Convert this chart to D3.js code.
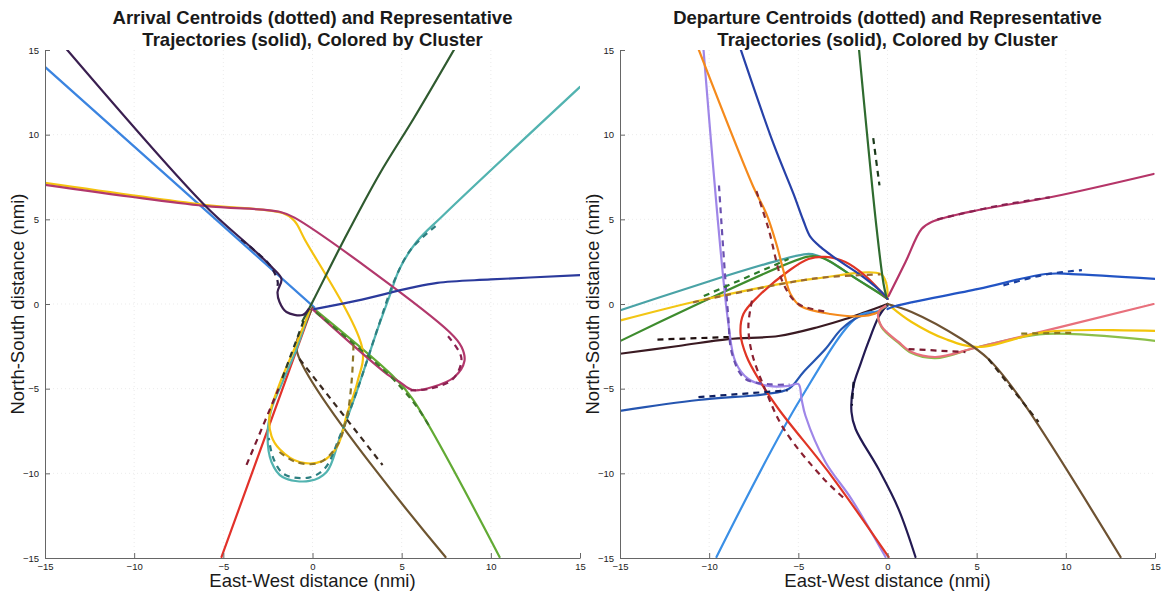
<!DOCTYPE html>
<html>
<head>
<meta charset="utf-8">
<script src="https://cdn.jsdelivr.net/npm/d3@7"></script>
<style>
  body { margin: 0; background: #fff; }
  svg { display: block; font-family: "Liberation Sans", Arial, Helvetica, sans-serif; }
</style>
</head>
<body>
<svg id="chart" width="1166" height="598"></svg>
<script>
// ---------------- data: positions in nautical miles (East-West, North-South) ----------------
const tickValues = [-15, -10, -5, 0, 5, 10, 15];
const arrivalTitle = ["Arrival Centroids (dotted) and Representative", "Trajectories (solid), Colored by Cluster"];
const departureTitle = ["Departure Centroids (dotted) and Representative", "Trajectories (solid), Colored by Cluster"];
const xLabel = "East-West distance (nmi)";
const yLabel = "North-South distance (nmi)";

// Arrival representative trajectories
const arrLightBlue = [[-15, 14.0], [0.1, -0.2]];
const arrDarkPurple = [[-13.8, 15.06], [-6.06, 5.85], [-3.4, 3.3], [-2.3, 2.2], [-1.74, 1.48], [-1.96, 0.71], [-1.85, 0.12], [-1.46, -0.47], [-0.56, -0.65], [-0.22, -0.3]];
const arrRoyalBlue = [[0.1, -0.3], [2.5, 0.2], [5.5, 0.95], [7, 1.25], [10, 1.45], [15, 1.7]];
const arrTeal = [[15, 12.82], [7.29, 5.2], [5.83, 3.66], [4.88, 2.07], [4.32, 0.47], [3.65, -1.48], [2.47, -5.2], [1.51, -7.97], [0.79, -9.92], [-0.17, -10.45], [-1.68, -10.22], [-2.3, -9.33], [-2.52, -7.8], [-2.3, -6.2], [-1.68, -4.6], [-0.9, -2.66], [-0.17, -0.41]];
const arrYellow = [[-15, 7.15], [-6.06, 5.85], [-1.68, 5.37], [-1.01, 4.9], [-0.45, 3.84], [2.8, -2.66], [2.52, -4.6], [1.91, -6.6], [1.4, -8.39], [0.56, -9.27], [-0.73, -9.33], [-1.85, -8.56], [-2.3, -7.8], [-2.41, -6.6], [-1.85, -4.73], [-0.9, -2.36], [-0.17, -0.41]];
const arrMagenta = [[-15, 7.03], [-6.06, 5.79], [-1.85, 5.45], [-1.01, 5.1], [7.68, -1.65], [8.36, -2.54], [8.52, -3.37], [7.96, -4.31], [6.73, -4.9], [5.61, -5.08], [4.88, -4.6], [4.32, -4.25], [0, -0.3]];
const arrGreen = [[10.49, -14.94], [5.61, -5.61], [4.6, -4.35], [0.1, -0.3]];
const arrBrown = [[7.46, -14.94], [-0.9, -2.66], [-0.4, -1.2], [0, -0.2]];
const arrRed = [[-5.1, -14.94], [-0.06, -0.3]];
const arrDarkGreen = [[7.96, 15.06], [5.7, 11.0], [3.76, 7.68], [1.79, 3.84], [0, 0.12], [-0.56, -1.0]];

// Arrival cluster centroids
const arrCenDarkPurple = [[-4.0, 3.8], [-2.4, 2.3], [-1.95, 1.3], [-2.0, 0.9]];
const arrCenTeal = [[6.9, 4.6], [5.5, 3.2], [4.6, 1.4], [3.7, -1.3], [2.5, -5.1], [1.5, -7.9], [0.7, -9.7], [-0.2, -10.25], [-1.6, -10.05], [-2.2, -9.1], [-2.45, -7.9]];
const arrCenYellow = [[2.3, -2.4], [2.2, -4.5], [1.9, -6.8], [1.3, -8.5], [0.3, -9.4], [-1.0, -9.3], [-1.9, -8.7]];
const arrCenGreen = [[0.2, -0.5], [4.4, -4.3], [5.8, -6.0], [6.6, -7.3]];
const arrCenMagenta = [[7.6, -1.9], [8.35, -3.2], [7.9, -4.4], [6.6, -5.0], [5.5, -5.1]];
const arrCenRed = [[-3.7, -9.5], [-1.9, -5.0]];
const arrCenBrown = [[-0.73, -3.25], [3.93, -9.51]];
const arrCenDarkGreen = [[-0.5, -1.0], [-1.7, -4.4]];

// Departure representative trajectories
const depLavender = [[-10.32, 15.06], [-8.92, -1.18], [-8.52, -3.43], [-7.8, -4.43], [-6.67, -4.84], [-5.55, -4.84], [-4.99, -4.73], [-4.82, -5.61], [-4.6, -6.6], [-3.48, -9.33], [-2.02, -11.52], [-0.11, -14.94]];
const depRed = [[0, 0.3], [-1.23, 1.65], [-2.36, 2.48], [-3.48, 2.78], [-4.43, 2.66], [-5.55, 1.95], [-7.23, 0.47], [-8.08, -0.59], [-8.24, -1.77], [-7.91, -3.07], [-7.23, -4.43], [-6.11, -6.2], [-3.14, -10.16], [0.06, -14.94]];
const depOrange = [[-10.6, 15.06], [-7.52, 6.91], [-6.79, 5.32], [-6.23, 3.54], [-5.83, 1.95], [-5.44, 0.59], [-4.88, -0.12], [-3.2, -0.59], [-1.35, -0.71], [-0.39, -0.41], [0, 0]];
const depBlueNorth = [[-8.24, 15.06], [-6.39, 9.45], [-5.27, 6.5], [-4.71, 4.9], [-4.32, 3.96], [-3.76, 3.37], [-3.03, 2.78], [-1.35, 1.59], [-0.22, 0.59], [0, 0.3]];
const depDarkGreen = [[-1.6, 15.06], [-0.62, 4.55], [-0.22, 1.18], [-0.06, 0.41]];
const depTeal = [[-15.09, -0.41], [-4.54, 2.95], [-3.9, 2.85], [-3.2, 2.5], [-1.9, 1.6], [-0.4, 0.6], [0, 0.3]];
const depGreen = [[-15.09, -2.24], [-4.54, 2.78], [-3.9, 2.8], [-3.2, 2.5], [-1.9, 1.59], [-0.39, 0.59], [0, 0.3]];
const depYellowWest = [[-15.09, -1.0], [-10.88, 0.12], [-6.95, 1.0], [-4.15, 1.48], [-0.39, 1.77], [-0.06, 1.18], [0, 0.3]];
const depMaroon = [[-15.09, -2.95], [-11.72, -2.48], [-8.92, -2.07], [-6.11, -1.89], [-3.87, -1.36], [-2.36, -0.89], [-1.23, -0.47], [0, 0]];
const depBlueWest = [[-15.09, -6.32], [-10.6, -5.67], [-6.84, -5.32], [-5.55, -5.02], [-4.71, -4.01], [-3.48, -2.66], [-2.58, -1.48], [-1.63, -0.77], [-0.5, -0.47], [0, -0.1]];
const depLightBlue = [[-9.59, -14.94], [-4.88, -5.61], [-1.63, -0.71], [-0.5, -0.41], [0, -0.1]];
const depNavy = [[1.57, -14.94], [0.62, -12.11], [-0.5, -9.75], [-1.79, -7.38], [-2.02, -6.38], [-1.91, -4.84], [-1.51, -3.54], [-1.07, -2.24], [-0.5, -0.77], [0, 0]];
const depMagenta = [[14.92, 7.68], [9.2, 6.32], [5.1, 5.55], [2.47, 4.84], [1.91, 4.43], [1.01, 2.48], [0.06, 0.47]];
const depBlueEast = [[15.03, 1.48], [10.32, 1.77], [8.86, 1.77], [5.1, 0.89], [0.45, -0.12], [0, -0.3]];
const depYellowGreen = [[15.03, -2.18], [8.86, -1.77], [5.1, -2.54], [2.69, -3.2], [1.35, -2.9], [0.62, -2.3], [-0.34, -1.35], [-0.5, -0.5], [-0.11, -0.15]];
const depPink = [[14.92, 0], [5.1, -2.54], [2.69, -3.13], [1.35, -2.84], [0.62, -2.24], [-0.34, -1.3], [-0.5, -0.47], [-0.11, -0.12]];
const depYellowEast = [[15.03, -1.59], [8.86, -1.65], [5.1, -2.54], [3.25, -2.07], [1.35, -1.06], [0.22, -0.18]];
const depBrown = [[13.07, -14.94], [7.35, -5.43], [5.66, -3.25], [4.15, -2.07], [1.35, -0.47], [0, 0]];

// Departure cluster centroids
const depCenLavender = [[-9.45, 7.0], [-8.95, -0.5], [-8.7, -3.0], [-8.0, -4.4], [-6.5, -4.75], [-5.5, -4.75]];
const depCenRed = [[-7.6, 0.2], [-7.8, -1.3], [-7.6, -2.9], [-6.8, -5.2], [-5.8, -7.4], [-3.6, -10.3], [-2.3, -11.6]];
const depCenOrange = [[-7.35, 6.67], [-6.67, 4.43], [-5.83, 1.18], [-5.0, 0], [-3.31, -0.47]];
const depCenDarkGreen = [[-0.8, 9.8], [-0.45, 7.0]];
const depCenGreen = [[-10.3, 0.47], [-5.55, 2.66]];
const depCenYellowWest = [[-10.9, 0.1], [-4.15, 1.5], [-0.4, 1.75]];
const depCenMaroon = [[-12.9, -2.1], [-8.9, -1.95]];
const depCenBlueWest = [[-10.6, -5.5], [-5.6, -5.1]];
const depCenNavy = [[-1.9, -4.6], [-2.0, -6.0]];
const depCenMagenta = [[2.8, 5.0], [6.2, 5.8], [9.1, 6.3]];
const depCenBlueEast = [[6.5, 1.1], [8.9, 1.75], [10.9, 2.0]];
const depCenPink = [[1.18, -2.66], [4.37, -2.84]];
const depCenYellowEast = [[7.5, -1.75], [10.3, -1.7]];
const depCenBrown = [[5.66, -3.25], [8.47, -6.97]];

// ---------------- drawing ----------------
const arrivalSolids = [
  [arrLightBlue, "#3b84e0"], [arrRed, "#e2312a"], [arrBrown, "#6e5530"], [arrGreen, "#62aa34"],
  [arrTeal, "#52b3b0"], [arrYellow, "#f5c20f"], [arrMagenta, "#b2386c"], [arrRoyalBlue, "#2b3a9c"],
  [arrDarkGreen, "#2f5a2f"], [arrDarkPurple, "#3a1f50"]
];
const arrivalCentroids = [
  [arrCenDarkPurple, "#2a1a40"], [arrCenTeal, "#2d7f80"], [arrCenYellow, "#8c7428"], [arrCenGreen, "#3f7a2a"],
  [arrCenMagenta, "#8a2050"], [arrCenRed, "#7a1a30"], [arrCenBrown, "#3a2a20"], [arrCenDarkGreen, "#2a3a2a"]
];
const departureSolids = [
  [depTeal, "#4aa3a6"], [depGreen, "#3e8c2e"], [depYellowWest, "#f2c614"], [depMaroon, "#3a1a22"],
  [depLightBlue, "#3a8fe6"], [depBlueWest, "#2555b0"], [depLavender, "#9f86e8"], [depRed, "#e03525"],
  [depOrange, "#f58a1c"], [depBlueNorth, "#2741a8"], [depDarkGreen, "#2f6b2f"], [depNavy, "#231a52"],
  [depYellowGreen, "#8cbf4a"], [depPink, "#e8707c"], [depYellowEast, "#f2c40a"], [depBrown, "#6e5232"],
  [depBlueEast, "#2254c4"], [depMagenta, "#b53568"]
];
const departureCentroids = [
  [depCenLavender, "#6a50b0"], [depCenRed, "#8a2030"], [depCenOrange, "#8a2a30"], [depCenDarkGreen, "#1a3a1a"],
  [depCenGreen, "#2a7a2a"], [depCenYellowWest, "#9a6a30"], [depCenMaroon, "#201010"], [depCenBlueWest, "#102060"],
  [depCenNavy, "#101030"], [depCenMagenta, "#8a2050"], [depCenBlueEast, "#1a40a0"], [depCenPink, "#7a1a30"],
  [depCenYellowEast, "#8a7a20"], [depCenBrown, "#3a2a1a"]
];

const svg = d3.select("#chart");
const plotTop = 50, plotBottom = 558;

function drawPanel(id, left, right, title, solids, centroids) {
  const x = d3.scaleLinear().domain([-15, 15]).range([left, right]);
  const y = d3.scaleLinear().domain([-15, 15]).range([plotBottom, plotTop]);
  const g = svg.append("g").attr("id", id);

  // faint grid
  const inner = tickValues.slice(1, -1);
  const grid = g.append("g").attr("stroke", "#e6e6e6").attr("stroke-width", 0.8).attr("stroke-dasharray", "1,3");
  grid.selectAll("line.v").data(inner).join("line").attr("class", "v")
    .attr("x1", d => x(d)).attr("x2", d => x(d)).attr("y1", plotTop).attr("y2", plotBottom);
  grid.selectAll("line.h").data(inner).join("line").attr("class", "h")
    .attr("y1", d => y(d)).attr("y2", d => y(d)).attr("x1", left).attr("x2", right);

  g.append("clipPath").attr("id", id + "-clip").append("rect")
    .attr("x", left).attr("y", plotTop).attr("width", right - left).attr("height", plotBottom - plotTop);

  const line = d3.line().x(d => x(d[0])).y(d => y(d[1])).curve(d3.curveCatmullRom.alpha(0.5));
  const plot = g.append("g").attr("clip-path", `url(#${id}-clip)`).attr("fill", "none")
    .attr("stroke-linecap", "round").attr("stroke-linejoin", "round");

  plot.selectAll("path.solid").data(solids).join("path").attr("class", "solid")
    .attr("d", d => line(d[0])).attr("stroke", d => d[1]).attr("stroke-width", 2.2);
  plot.selectAll("path.centroid").data(centroids).join("path").attr("class", "centroid")
    .attr("d", d => line(d[0])).attr("stroke", d => d[1]).attr("stroke-width", 2.2)
    .attr("stroke-dasharray", "6,5").attr("stroke-linecap", "butt");

  // axes with inward ticks
  const xAxis = d3.axisBottom(x).tickValues(tickValues).tickSizeInner(-5).tickSizeOuter(0).tickPadding(5);
  const yAxis = d3.axisLeft(y).tickValues(tickValues).tickSizeInner(-5).tickSizeOuter(0).tickPadding(6);
  const gx = g.append("g").attr("transform", `translate(0,${plotBottom})`).call(xAxis);
  const gy = g.append("g").attr("transform", `translate(${left},0)`).call(yAxis);
  [gx, gy].forEach(a => {
    a.select(".domain").attr("stroke", "#666").attr("stroke-width", 1);
    a.selectAll(".tick line").attr("stroke", "#666");
    a.selectAll(".tick text").attr("fill", "#222").attr("font-size", 9.5).attr("font-family", "Liberation Sans, Arial, sans-serif");
  });

  const cx = (left + right) / 2;
  g.append("text").attr("x", cx).attr("y", 24).attr("text-anchor", "middle")
    .attr("font-size", 18.5).attr("font-weight", "bold").attr("fill", "#1a1a1a").text(title[0]);
  g.append("text").attr("x", cx).attr("y", 46).attr("text-anchor", "middle")
    .attr("font-size", 18.5).attr("font-weight", "bold").attr("fill", "#1a1a1a").text(title[1]);

  g.append("text").attr("x", cx).attr("y", 587).attr("text-anchor", "middle")
    .attr("font-size", 18.5).attr("fill", "#1a1a1a").text(xLabel);
  g.append("text").attr("transform", `translate(${left - 21},${(plotTop + plotBottom) / 2}) rotate(-90)`)
    .attr("text-anchor", "middle").attr("font-size", 18.5).attr("fill", "#1a1a1a").text(yLabel);
}

drawPanel("arrivals", 45, 580, arrivalTitle, arrivalSolids, arrivalCentroids);
drawPanel("departures", 620, 1155, departureTitle, departureSolids, departureCentroids);
</script>
</body>
</html>
